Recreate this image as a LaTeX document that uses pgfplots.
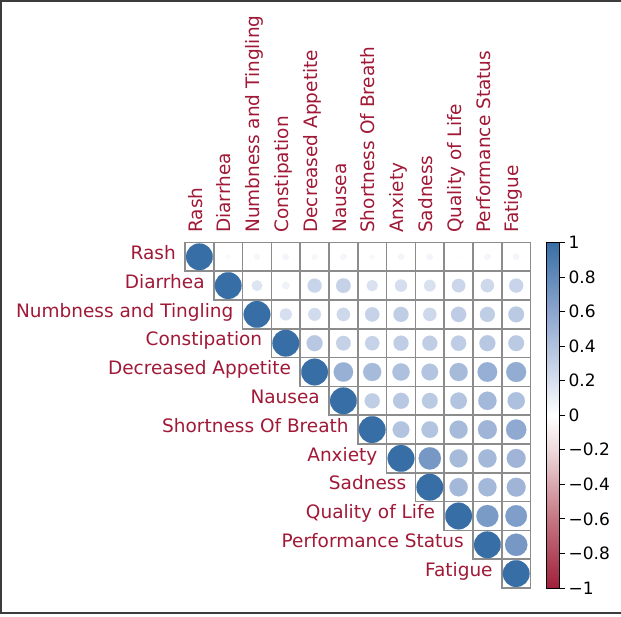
\documentclass[border=0pt]{standalone}
\usepackage{fontspec}
\setmainfont{DejaVu Sans}
\usepackage{pgfplots}
\pgfplotsset{compat=1.18}
\usepackage{pgfplotstable}
\definecolor{labred}{RGB}{160,25,55}
\definecolor{gridgray}{RGB}{140,140,140}
\definecolor{framegray}{RGB}{60,60,60}
\pgfplotstableread{
x y r
0 11 1
1 11 0.03
2 11 0.05
3 11 0.06
4 11 0.05
5 11 0.06
6 11 0.04
7 11 0.06
8 11 0.06
9 11 0.02
10 11 0.06
11 11 0.06
1 10 1
2 10 0.16
3 10 0.08
4 10 0.28
5 10 0.30
6 10 0.18
7 10 0.21
8 10 0.19
9 10 0.26
10 10 0.25
11 10 0.28
2 9 1
3 9 0.20
4 9 0.23
5 9 0.25
6 9 0.29
7 9 0.32
8 9 0.25
9 9 0.33
10 9 0.32
11 9 0.35
3 8 1
4 8 0.36
5 8 0.30
6 8 0.29
7 8 0.32
8 8 0.32
9 8 0.33
10 8 0.36
11 8 0.35
4 7 1
5 7 0.53
6 7 0.46
7 7 0.42
8 7 0.39
9 7 0.46
10 7 0.54
11 7 0.56
5 6 1
6 6 0.32
7 6 0.36
8 6 0.35
9 6 0.39
10 6 0.47
11 6 0.42
6 5 1
7 5 0.39
8 5 0.39
9 5 0.46
10 5 0.50
11 5 0.58
7 4 1
8 4 0.70
9 4 0.46
10 4 0.47
11 4 0.50
8 3 1
9 3 0.47
10 3 0.47
11 3 0.50
9 2 1
10 2 0.68
11 2 0.66
10 1 1
11 1 0.70
11 0 1
}\corrdata
\begin{document}
\begin{tikzpicture}
\useasboundingbox (-185bp,-29bp) rectangle (436bp,588bp);
\draw[framegray, line width=1.6bp] (-184.2bp,-25bp) -- (-184.2bp,587.2bp);
\draw[framegray, line width=1.6bp] (-185bp,587.2bp) -- (436bp,587.2bp);
\draw[framegray, line width=1.6bp] (-185bp,-25bp) -- (436bp,-25bp);
\begin{axis}[
  at={(0,0)}, anchor=south west,
  scale only axis, width=345.6bp, height=345.6bp,
  xmin=-0.5, xmax=11.5, ymin=-0.5, ymax=11.5,
  axis lines=none, ticks=none, clip=false,
  colormap={corr}{rgb255(0cm)=(160,32,60) rgb255(4cm)=(198,118,130) rgb255(8cm)=(238,218,220) rgb255(10cm)=(255,255,255) rgb255(12cm)=(214,223,239) rgb255(16cm)=(140,166,207) rgb255(20cm)=(55,110,165)},
  point meta min=-1, point meta max=1,
  colorbar,
  colorbar style={
    at={(parent axis.south east)}, anchor=south west, xshift=7bp,
    width=13bp,
    ytick={-1,-0.8,-0.6,-0.4,-0.2,0,0.2,0.4,0.6,0.8,1},
    yticklabels={−1,−0.8,−0.6,−0.4,−0.2,0,0.2,0.4,0.6,0.8,1},
    ytick align=outside, ytick pos=right, yticklabel pos=right,
    major tick length=6bp,
    tick style={black, line width=0.8bp},
    axis line style={black, line width=1bp},
    yticklabel style={font=\fontsize{17bp}{20bp}\selectfont, anchor=west, xshift=0bp},
  },
]
\addplot[only marks, mark=square, mark size=14.4bp, mark options={draw=gridgray, line width=1.5bp}] table[x=x,y=y]{\corrdata};
\addplot[scatter, only marks, mark=*, scatter src=explicit,
  scatter/use mapped color={draw=mapped color, fill=mapped color},
  mark options={line width=0.1pt},
  visualization depends on={\thisrow{r} \as \rv},
  scatter/@pre marker code/.append style={/tikz/mark size={13.4*sqrt(\rv)}}]
  table[x=x,y=y,meta=r]{\corrdata};
\end{axis}
\foreach \lab [count=\i from 0] in {Rash,Diarrhea,Numbness and Tingling,Constipation,Decreased Appetite,Nausea,Shortness Of Breath,Anxiety,Sadness,Quality of Life,Performance Status,Fatigue}{
  \node[rotate=90, anchor=mid west, inner sep=0, text=labred, font=\fontsize{18.5bp}{22bp}\selectfont] at ({(\i+0.5)*28.8bp}, 355bp) {\lab};
  \node[anchor=mid east, inner sep=0, text=labred, font=\fontsize{18.5bp}{22bp}\selectfont] at ({\i*28.8bp-9bp},{(11.5-\i)*28.8bp}) {\lab};
}
\end{tikzpicture}
\end{document}
